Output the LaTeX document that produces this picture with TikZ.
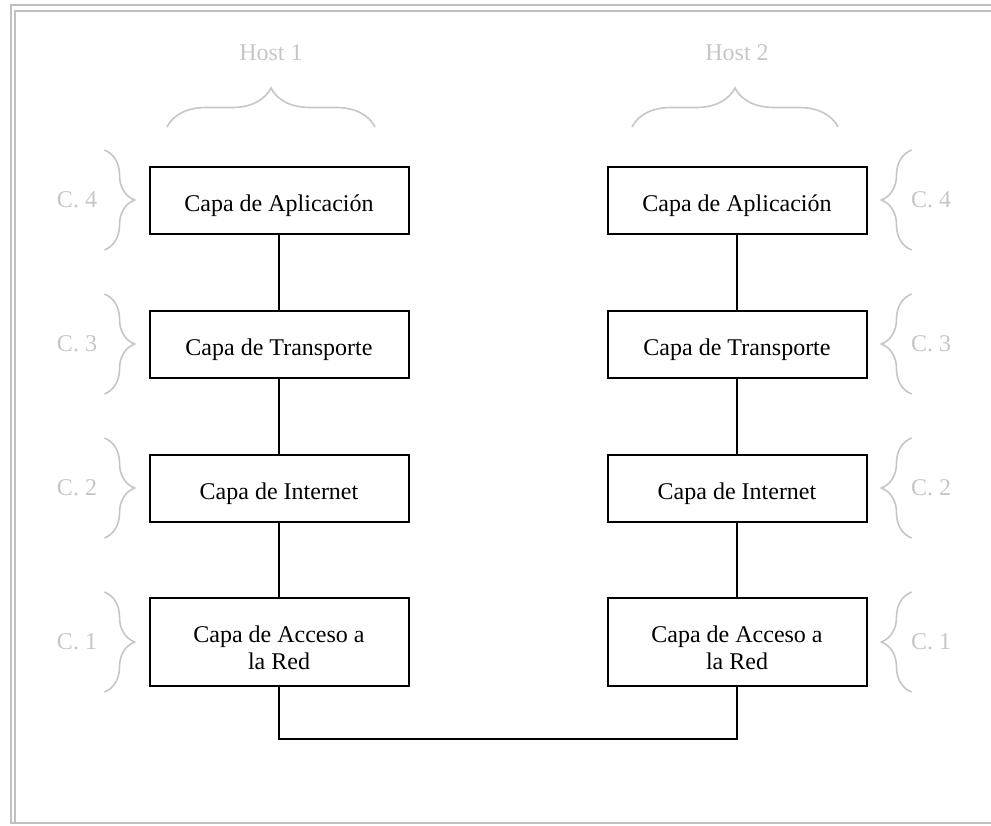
\documentclass[tikz,border=0pt]{standalone}
\usepackage{fontspec}
\setmainfont{Liberation Serif}
\usetikzlibrary{positioning, decorations.pathreplacing}

\definecolor{framegray}{RGB}{192,192,192}
\definecolor{notegray}{RGB}{198,198,198}

\tikzset{
    capa/.style={draw, line width=1pt, minimum width=129.5pt, minimum height=33.5pt,
        text height=12pt, text depth=0.5pt,
        align=center, font=\fontsize{12}{13.5}\selectfont},
    capados/.style={capa, minimum height=44pt, text height=27.5pt, text depth=0.5pt},
    nota/.style={text=notegray, font=\fontsize{12}{13.5}\selectfont},
    llave/.style={draw=notegray, line width=0.8pt, decorate, decoration={brace, amplitude=15pt}},
    llavehost/.style={llave, decoration={brace, amplitude=19.5pt}},
    enlace/.style={line width=0.8pt},
    marco/.style={draw=framegray, line width=1pt}
}

\begin{document}
\begin{tikzpicture}[x=0.5pt, y=-0.5pt]
    \useasboundingbox (0,0) rectangle (991,825);

    % marco
    \draw[marco] (991,5) -- (11,5) -- (11,823) -- (991,823);
    \draw[marco] (991,11) -- (15,11) -- (15,823);

    % host 1
    \node[capa] (apl1) at (279,200) {Capa de Aplicación};
    \node[capa] (tra1) at (279,344) {Capa de Transporte};
    \node[capa] (int1) at (279,488) {Capa de Internet};
    \node[capados] (acc1) at (279,642) {Capa de Acceso a\\la Red};

    % host 2
    \node[capa] (apl2) at (737,200) {Capa de Aplicación};
    \node[capa] (tra2) at (737,344) {Capa de Transporte};
    \node[capa] (int2) at (737,488) {Capa de Internet};
    \node[capados] (acc2) at (737,642) {Capa de Acceso a\\la Red};

    \node[nota] (host1) at (271,53) {Host 1};
    \node[nota] (host2) at (737,53) {Host 2};
    \draw[llavehost] (167,127) -- (375,127);
    \draw[llavehost] (632,127) -- (838,127);

    % capas
    \node[nota] (c4a) at (77,200) {C. 4};
    \node[nota] (c3a) at (77,344) {C. 3};
    \node[nota] (c2a) at (77,488) {C. 2};
    \node[nota] (c1a) at (77,642) {C. 1};
    \node[nota] (c4b) at (931,200) {C. 4};
    \node[nota] (c3b) at (931,344) {C. 3};
    \node[nota] (c2b) at (931,488) {C. 2};
    \node[nota] (c1b) at (931,642) {C. 1};

    \draw[llave] ([xshift=-22pt,yshift=25pt]apl1.west) -- ([xshift=-22pt,yshift=-25pt]apl1.west);
    \draw[llave] ([xshift=-22pt,yshift=25pt]tra1.west) -- ([xshift=-22pt,yshift=-25pt]tra1.west);
    \draw[llave] ([xshift=-22pt,yshift=25pt]int1.west) -- ([xshift=-22pt,yshift=-25pt]int1.west);
    \draw[llave] ([xshift=-22pt,yshift=25pt]acc1.west) -- ([xshift=-22pt,yshift=-25pt]acc1.west);
    \draw[llave] ([xshift=22pt,yshift=-25pt]apl2.east) -- ([xshift=22pt,yshift=25pt]apl2.east);
    \draw[llave] ([xshift=22pt,yshift=-25pt]tra2.east) -- ([xshift=22pt,yshift=25pt]tra2.east);
    \draw[llave] ([xshift=22pt,yshift=-25pt]int2.east) -- ([xshift=22pt,yshift=25pt]int2.east);
    \draw[llave] ([xshift=22pt,yshift=-25pt]acc2.east) -- ([xshift=22pt,yshift=25pt]acc2.east);

    % conexiones
    \draw[enlace] (apl1) -- (tra1);
    \draw[enlace] (tra1) -- (int1);
    \draw[enlace] (int1) -- (acc1);
    \draw[enlace] (apl2) -- (tra2);
    \draw[enlace] (tra2) -- (int2);
    \draw[enlace] (int2) -- (acc2);
    \draw[enlace] (acc1.south) -- ++(0,52) -| (acc2.south);

\end{tikzpicture}
\end{document}
